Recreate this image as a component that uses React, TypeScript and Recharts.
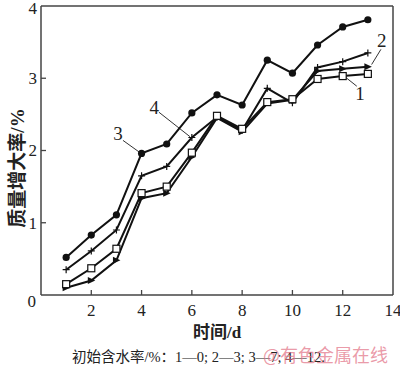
import { LineChart, Line, XAxis, YAxis, ReferenceLine, ReferenceDot } from "recharts";

const days = [1, 2, 3, 4, 5, 6, 7, 8, 9, 10, 11, 12, 13];
// initial water content 0%, 3%, 7%, 12%
const w0 = [0.15, 0.37, 0.64, 1.41, 1.5, 1.97, 2.48, 2.3, 2.67, 2.71, 2.99, 3.03, 3.06];
const w3 = [0.1, 0.2, 0.48, 1.34, 1.41, 1.91, 2.45, 2.26, 2.65, 2.7, 3.1, 3.13, 3.16];
const w7 = [0.52, 0.83, 1.11, 1.96, 2.09, 2.52, 2.77, 2.63, 3.25, 3.07, 3.46, 3.71, 3.81];
const w12 = [0.35, 0.61, 0.9, 1.65, 1.78, 2.18, 2.46, 2.28, 2.86, 2.66, 3.15, 3.23, 3.35];

const xTicks = [0, 2, 4, 6, 8, 10, 12, 14];
const yTicks = [0, 1, 2, 3, 4];

// curve labels: text position and leader line (data units)
const callouts = [
  { name: "1", tx: 12.69, ty: 2.79, from: [12.56, 2.89], to: [12.09, 3.02] },
  { name: "2", tx: 13.55, ty: 3.52, from: [13.52, 3.4], to: [13.15, 3.19] },
  { name: "3", tx: 3.06, ty: 2.24, from: [3.26, 2.14], to: [3.9, 1.98] },
  { name: "4", tx: 4.5, ty: 2.6, from: [4.69, 2.53], to: [5.93, 2.19] },
];

const data = days.map((d, i) => ({ day: d, w0: w0[i], w3: w3[i], w7: w7[i], w12: w12[i] }));

const serif = '"Liberation Serif", "Noto Sans CJK SC", serif';
const ink = "#111";
const axisColor = "#444";

const XTick = (props: any) => {
  const { x, y, payload } = props;
  const v = payload.value;
  const axisY = y - 8;
  return (
    <g>
      {v !== 0 && v !== 14 && (
        <line x1={x} y1={axisY} x2={x} y2={axisY - 5} stroke={axisColor} strokeWidth={1.3} />
      )}
      {v !== 0 && (
        <text x={x} y={y} dy="0.75em" textAnchor="middle" fontFamily={serif} fontSize={17} fill="#222">
          {v}
        </text>
      )}
    </g>
  );
};

const YTick = (props: any) => {
  const { x, y, payload } = props;
  const v = payload.value;
  const axisX = x + 4;
  let ty = y;
  if (v === 0) ty = y + 6;
  if (v === 4) ty = y + 2;
  return (
    <g>
      {v !== 0 && v !== 4 && (
        <line x1={axisX} y1={y} x2={axisX + 5} y2={y} stroke={axisColor} strokeWidth={1.3} />
      )}
      <text
        x={v === 0 ? x - 1 : x}
        y={ty}
        dy="0.35em"
        textAnchor="end"
        fontFamily={serif}
        fontSize={17}
        fill="#222"
      >
        {v}
      </text>
    </g>
  );
};

const Circle = (props: any) => {
  const { cx, cy } = props;
  return <circle cx={cx} cy={cy} r={3.6} fill={ink} />;
};

const Square = (props: any) => {
  const { cx, cy } = props;
  return <rect x={cx - 3.5} y={cy - 3.5} width={7} height={7} fill="#fff" stroke={ink} strokeWidth={1.2} />;
};

const Plus = (props: any) => {
  const { cx, cy } = props;
  return (
    <path d={`M${cx - 3.5},${cy}H${cx + 3.5}M${cx},${cy - 3.5}V${cy + 3.5}`} stroke={ink} strokeWidth={1.2} />
  );
};

const Tri = (props: any) => {
  const { cx, cy } = props;
  return <polygon points={`${cx - 3.5},${cy - 3.5} ${cx + 4},${cy} ${cx - 3.5},${cy + 3.5}`} fill={ink} />;
};

const CalloutText = (name: string) => (props: any) => {
  const vb = props.viewBox || {};
  const cx = vb.x + (vb.width || 0) / 2;
  const cy = vb.y + (vb.height || 0) / 2;
  return (
    <text x={cx} y={cy} dy="0.35em" textAnchor="middle" fontFamily={serif} fontSize={19} fill="#222">
      {name}
    </text>
  );
};

export default function App() {
  return (
    <div style={{ position: "absolute", left: 0, top: 0, width: 400, height: 369, background: "#fff" }}>
      <LineChart width={400} height={369} data={data} margin={{ top: 6, right: 7, left: 0, bottom: 44 }}>
        <XAxis
          dataKey="day"
          type="number"
          domain={[0, 14]}
          ticks={xTicks}
          interval={0}
          height={30}
          tickSize={0}
          tickMargin={8}
          tick={<XTick />}
          axisLine={{ stroke: axisColor, strokeWidth: 1.5 }}
        />
        <YAxis
          type="number"
          domain={[0, 4]}
          ticks={yTicks}
          interval={0}
          width={41}
          tickSize={0}
          tickMargin={4}
          tick={<YTick />}
          axisLine={{ stroke: axisColor, strokeWidth: 1.5 }}
        />
        <ReferenceLine y={4} stroke={axisColor} strokeWidth={1.5} />
        <ReferenceLine x={14} stroke={axisColor} strokeWidth={1.5} />
        {callouts.map((c) => (
          <ReferenceLine
            key={"l" + c.name}
            segment={[
              { x: c.from[0], y: c.from[1] },
              { x: c.to[0], y: c.to[1] },
            ]}
            stroke="#333"
            strokeWidth={1}
          />
        ))}
        {callouts.map((c) => (
          <ReferenceDot
            key={"t" + c.name}
            x={c.tx}
            y={c.ty}
            r={0}
            fill="none"
            stroke="none"
            label={CalloutText(c.name)}
          />
        ))}
        <Line dataKey="w7" stroke={ink} strokeWidth={2} dot={<Circle />} isAnimationActive={false} />
        <Line dataKey="w12" stroke={ink} strokeWidth={2} dot={<Plus />} isAnimationActive={false} />
        <Line dataKey="w3" stroke={ink} strokeWidth={2} dot={<Tri />} isAnimationActive={false} />
        <Line dataKey="w0" stroke={ink} strokeWidth={2} dot={<Square />} isAnimationActive={false} />
      </LineChart>
      <div
        style={{
          position: "absolute",
          left: 15,
          top: 168,
          transform: "translate(-50%, -50%) rotate(-90deg)",
          whiteSpace: "nowrap",
          fontFamily: serif,
          fontWeight: "bold",
          fontSize: 19,
          color: "#222",
        }}
      >
        质量增大率/%
      </div>
      <div
        style={{
          position: "absolute",
          left: 217,
          top: 330,
          transform: "translate(-50%, -50%)",
          whiteSpace: "nowrap",
          fontFamily: serif,
          fontWeight: "bold",
          fontSize: 17,
          color: "#222",
        }}
      >
        时间/d
      </div>
      <div
        style={{
          position: "absolute",
          left: 72,
          top: 355,
          transform: "translateY(-50%)",
          whiteSpace: "nowrap",
          fontFamily: serif,
          fontSize: 14.5,
          color: "#222",
        }}
      >
        初始含水率/%：1—0; 2—3; 3—7; 4—12.
      </div>
      <div
        style={{
          position: "absolute",
          left: 263,
          top: 354,
          transform: "translateY(-50%)",
          whiteSpace: "nowrap",
          fontFamily: '"Noto Sans CJK SC", sans-serif',
          fontSize: 18,
          color: "rgba(225, 110, 130, 0.7)",
        }}
      >
        @有色金属在线
      </div>
    </div>
  );
}
